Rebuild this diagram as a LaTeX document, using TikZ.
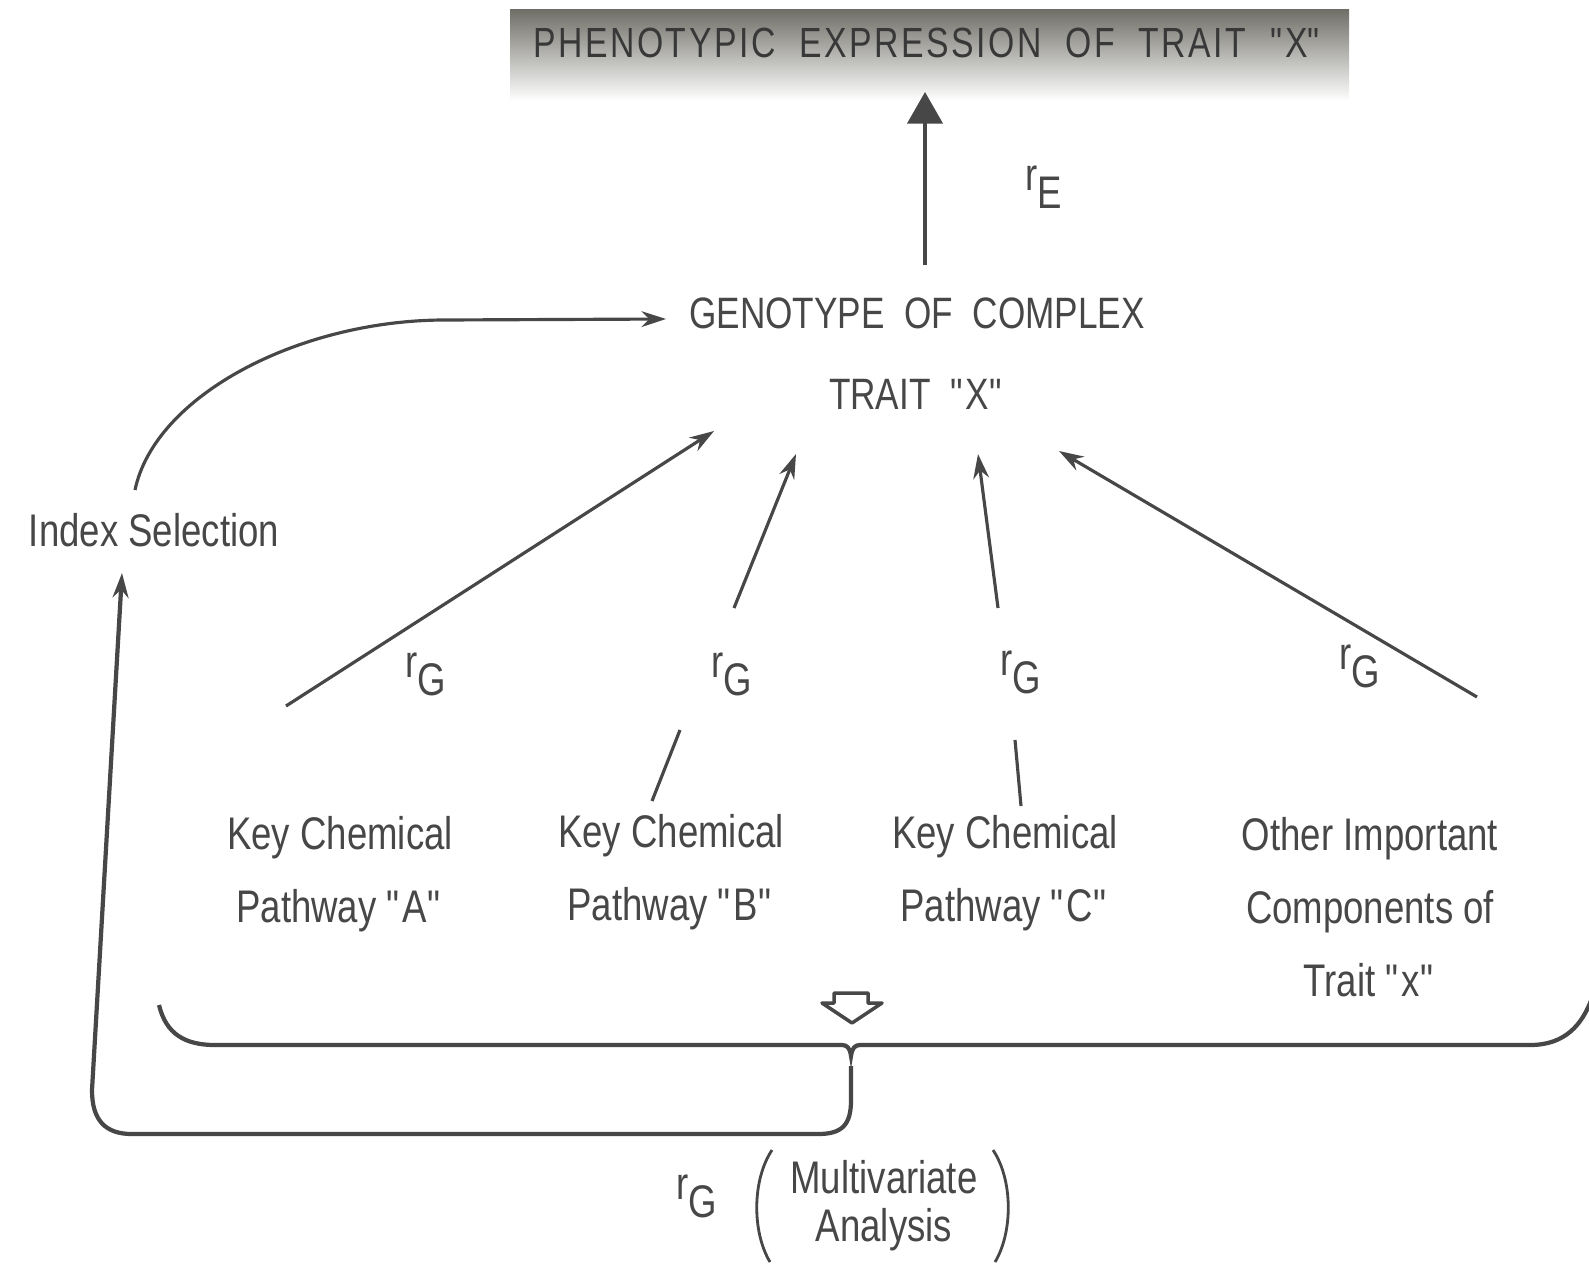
\documentclass[tikz,border=0pt]{standalone}
\usepackage{fontspec}
\setmainfont{Liberation Sans}[FakeStretch=0.8]
\newfontfamily\bandfont{Liberation Sans}[FakeStretch=0.8,LetterSpace=6]
\usetikzlibrary{arrows.meta, positioning}

\newcommand{\rsub}[1]{r\raisebox{-0.75ex}{#1}}
\newcommand{\qq}{\textquotedbl}

\begin{document}
\begin{tikzpicture}[x=0.01cm, y=-0.01cm, line width=0.9pt,
    >={Stealth[length=7pt,width=4.5pt]},
    every node/.style={align=center, text=inkgray, inner sep=1pt},
    lbl/.style={font=\fontsize{13}{20.8}\selectfont},
    caps/.style={font=\fontsize{12.5}{23}\selectfont},
    link/.style={draw=inkgray, ->}]
  \colorlet{inkgray}{black!72}
  \definecolor{bandtop}{RGB}{112,111,104}
  \definecolor{bandmid}{RGB}{168,168,162}
  \useasboundingbox (0,0) rectangle (1589,1273);

  % top band
  \shade[top color=bandtop, middle color=bandmid, bottom color=white, draw=none]
    (510,10) rectangle (1349,101);
  \node[font=\bandfont\fontsize{12}{14}\selectfont, text=black!78] (pheno) at (928,43)
    {PHENOTYPIC\ \ EXPRESSION\ \ OF\ \ TRAIT\ \ \qq X\qq};
  \coordinate (phenoIn) at (925,92);
  \coordinate (genoTop) at (925,265);
  \draw[draw=inkgray, -{Triangle[length=9pt,width=10pt]}, line width=1.1pt] (genoTop) -- (phenoIn);
  \node[lbl] (rE) at (1044,187) {\rsub{E}};

  % genotype
  \node[caps] (geno) at (917,354) {GENOTYPE\ \ OF\ \ COMPLEX\\TRAIT\ \ \qq X\qq};

  % index selection loop
  \node[lbl] (index) at (154,530) {Index\ Selection};
  \coordinate (idxTop) at (135,490);
  \coordinate (genoIn) at (666,319);
  \draw[link] (idxTop) .. controls (155,395) and (300,320) .. (445,320) -- (genoIn);

  % pathways
  \node[lbl] (pathA) at (340,874) {Key Chemical\\Pathway \qq A\qq};
  \node[lbl] (pathB) at (671,872) {Key Chemical\\Pathway \qq B\qq};
  \node[lbl] (pathC) at (1005,873) {Key Chemical\\Pathway \qq C\qq};
  \node[lbl] (other) at (1370,907) {Other Important\\Components of\\Trait \qq x\qq};

  \coordinate (aFoot) at (286,706);  \coordinate (aHead) at (714,431);
  \coordinate (bFoot) at (734,608);  \coordinate (bHead) at (796,454);
  \coordinate (cFoot) at (998,608);  \coordinate (cHead) at (978,454);
  \coordinate (dFoot) at (1477,697); \coordinate (dHead) at (1059,451);
  \draw[link] (aFoot) -- (aHead);
  \draw[link] (bFoot) -- (bHead);
  \draw[link] (cFoot) -- (cHead);
  \draw[link] (dFoot) -- (dHead);
  \draw[draw=inkgray] (652,801) -- (680,730);
  \draw[draw=inkgray] (1021,806) -- (1015,740);

  \node[lbl] (rA) at (426,674) {\rsub{G}};
  \node[lbl] (rB) at (732,674) {\rsub{G}};
  \node[lbl] (rC) at (1021,672) {\rsub{G}};
  \node[lbl] (rD) at (1360,666) {\rsub{G}};

  % brace with hollow arrow
  \draw[draw=inkgray, fill=white, line width=1pt, line join=round]
    (834,993) -- (868,993) -- (868,1003) -- (882,1003) -- (852,1023) -- (822,1003) -- (834,1003) -- cycle;
  \coordinate (cusp) at (851,1056);
  \draw[draw=inkgray, line width=1.2pt]
    (159,1005) .. controls (166,1034) and (185,1045) .. (215,1045) -- (842,1045)
    .. controls (847,1045) and (850,1048) .. (cusp)
    .. controls (852,1048) and (855,1045) .. (860,1045) -- (1530,1045)
    .. controls (1565,1045) and (1582,1025) .. (1592,998);

  % return loop to index selection
  \coordinate (loopTop) at (851,1066);
  \coordinate (idxIn) at (122,573);
  \draw[draw=inkgray, line width=1.2pt, ->] (loopTop) -- (851,1100)
    .. controls (851,1125) and (842,1134) .. (818,1134) -- (132,1134)
    .. controls (105,1134) and (92,1120) .. (92,1090) -- (idxIn);

  % multivariate analysis
  \node[lbl] (rM) at (697,1196) {\rsub{G}};
  \node[font=\fontsize{13}{13.6}\selectfont] (multi) at (884,1206) {Multivariate\\Analysis};
  \draw[draw=inkgray, line width=0.8pt] (772,1150) .. controls (752,1180) and (752,1232) .. (770,1262);
  \draw[draw=inkgray, line width=0.8pt] (993,1150) .. controls (1013,1180) and (1013,1232) .. (995,1262);
\end{tikzpicture}
\end{document}
